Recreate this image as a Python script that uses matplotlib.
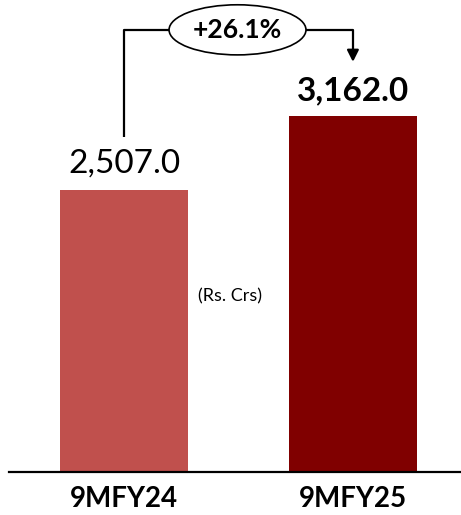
import matplotlib
matplotlib.use("Agg")
import matplotlib.pyplot as plt
from matplotlib.patches import Ellipse

categories = ["9MFY24", "9MFY25"]
values = [2507.0, 3162.0]
colors = ["#C0504D", "#800000"]
unit_note = "(Rs. Crs)"

plt.rcParams['font.family'] = ['Lato', 'DejaVu Sans']

fig = plt.figure(figsize=(4.61, 5.15), dpi=100)
ax = fig.add_axes([9 / 461, 43 / 515, 452 / 461, 472 / 515])

x = list(range(len(categories)))
ax.bar(x, values, width=0.56, color=colors, zorder=2)
ax.set_xlim(-0.502, 1.472)
ax.set_ylim(0, 4192)

# value labels
ax.text(x[0], values[0] + 95, f"{values[0]:,.1f}", ha="center", va="bottom",
        fontsize=24, color="black")
ax.text(x[1], values[1] + 95, f"{values[1]:,.1f}", ha="center", va="bottom",
        fontsize=24, fontweight="bold", color="black")

# unit note
ax.text(0.463, 1560, unit_note, ha="center", va="center", fontsize=13)

# growth connector
growth = (values[1] / values[0] - 1) * 100
y_top = values[1] + 765
ex, ew, eh = 0.496, 0.598, 445
ax.plot([x[0], x[0], ex - ew / 2], [values[0] + 470, y_top, y_top],
        color="black", lw=1.6, clip_on=False, solid_capstyle="butt")
ax.annotate("", xy=(x[1], values[1] + 480), xytext=(ex + ew / 2, y_top),
            arrowprops=dict(arrowstyle="-|>,head_length=0.7,head_width=0.35",
                            connectionstyle="angle,angleA=0,angleB=90,rad=0",
                            color="black", lw=1.6, shrinkA=0, shrinkB=0),
            annotation_clip=False)
ax.add_patch(Ellipse((ex, y_top), ew, eh, facecolor="white", edgecolor="black",
                     lw=1.2, clip_on=False, zorder=3))
ax.text(ex, y_top, f"+{growth:.1f}%", ha="center", va="center", fontsize=19,
        fontweight="bold", zorder=4)

for s in ["top", "right", "left"]:
    ax.spines[s].set_visible(False)
ax.spines["bottom"].set_linewidth(1.6)
ax.set_yticks([])
ax.set_xticks(x)
ax.set_xticklabels(categories, fontsize=20, fontweight="bold")
ax.tick_params(axis="x", length=0, pad=10)

fig.savefig("out.png", dpi=100)
